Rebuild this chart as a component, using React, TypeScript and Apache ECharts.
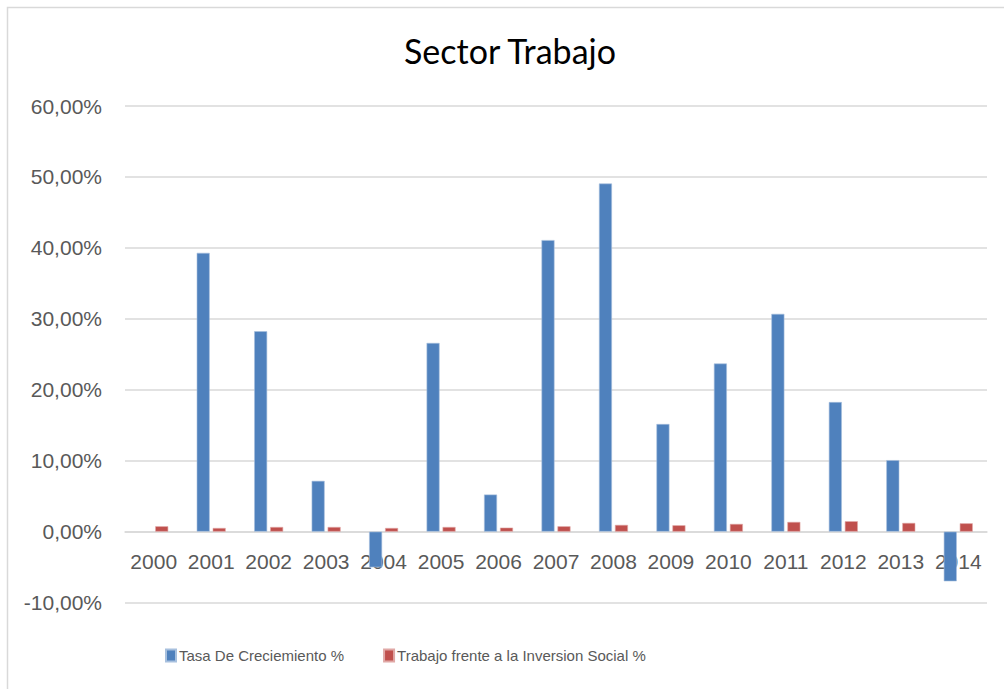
import React, { useEffect, useRef } from "react";
import * as echarts from "echarts";

const years = ["2000", "2001", "2002", "2003", "2004", "2005", "2006", "2007", "2008", "2009", "2010", "2011", "2012", "2013", "2014"];
const tasaCrecimiento = [null, 39.3, 28.25, 7.16, -5.03, 26.6, 5.23, 41.1, 49.07, 15.17, 23.7, 30.7, 18.27, 10.08, -7.0];
const trabajoInversion = [0.76, 0.52, 0.66, 0.66, 0.52, 0.66, 0.57, 0.76, 0.95, 0.9, 1.09, 1.37, 1.47, 1.23, 1.18];
const seriesNames = ["Tasa De Creciemiento %", "Trabajo frente a la Inversion Social %"];
const titleText = "Sector Trabajo";
const yMin = -10;
const yMax = 60;
const yStep = 10;

export default function App() {
  const ref = useRef<HTMLDivElement>(null);
  useEffect(() => {
    if (!ref.current) return;
    const chart = echarts.init(ref.current, undefined, { renderer: "svg" });
    const gridTop = 106;
    const gridBottom = 86.4;
    const plotH = 689 - gridTop - gridBottom;
    const zeroOffset = (plotH * (0 - yMin)) / (yMax - yMin);
    chart.setOption({
      animation: false,
      backgroundColor: "#ffffff",
      title: {
        text: titleText,
        left: 505,
        textAlign: "center",
        top: 28,
        textStyle: { fontFamily: "Lato", fontSize: 34, fontWeight: "normal", color: "#000000" },
      },
      graphic: [
        {
          type: "rect",
          left: 5,
          top: 5,
          shape: { width: 1100, height: 800 },
          style: { fill: "none", stroke: "#d9d9d9", lineWidth: 1.5 },
          silent: true,
        },
      ],
      grid: { left: 125, right: 17, top: gridTop, bottom: gridBottom, containLabel: false },
      legend: {
        left: 165,
        top: 648,
        padding: 0,
        itemWidth: 10,
        itemHeight: 12,
        itemGap: 39,
        icon: "rect",
        textStyle: { fontFamily: "'Liberation Sans'", fontSize: 15, color: "#595959", padding: [0, 0, 0, -2] },
        data: seriesNames,
      },
      xAxis: {
        type: "category",
        data: years,
        offset: -zeroOffset,
        axisLine: { onZero: false, lineStyle: { color: "#d9d9d9", width: 1.5 } },
        axisTick: { show: false },
        axisLabel: { fontFamily: "'Liberation Sans'", fontSize: 21, color: "#595959", margin: 19, interval: 0 },
      },
      yAxis: {
        type: "value",
        min: yMin,
        max: yMax,
        interval: yStep,
        axisLine: { show: false },
        axisTick: { show: false },
        splitLine: { lineStyle: { color: "#d9d9d9", width: 1.5 } },
        axisLabel: {
          fontFamily: "'Liberation Sans'",
          fontSize: 21,
          color: "#595959",
          margin: 23,
          formatter: (v: number) => v.toFixed(2).replace(".", ",") + "%",
        },
      },
      series: [
        {
          name: seriesNames[0],
          type: "bar",
          data: tasaCrecimiento,
          barWidth: 13,
          barGap: "23%",
          itemStyle: { color: "#4f81bd", borderColor: "#a7c0de", borderWidth: 0.6 },
        },
        {
          name: seriesNames[1],
          type: "bar",
          data: trabajoInversion,
          barWidth: 13,
          barGap: "23%",
          itemStyle: { color: "#c0504d", borderColor: "#e0a8a6", borderWidth: 0.6 },
        },
      ],
    });
    return () => chart.dispose();
  }, []);
  return (
    <div
      ref={ref}
      style={{ position: "absolute", left: 0, top: 0, width: 1004, height: 689 }}
    />
  );
}
